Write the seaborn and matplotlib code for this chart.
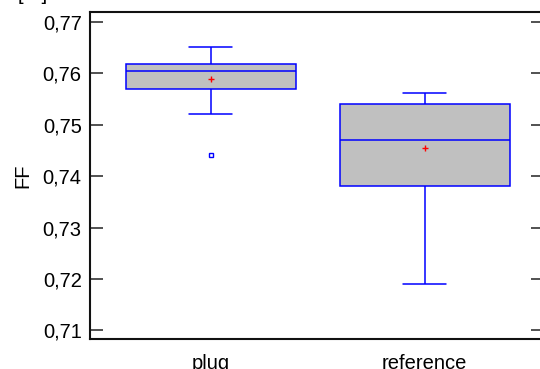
import pandas as pd
import seaborn as sns
import matplotlib.pyplot as plt
from matplotlib.ticker import FuncFormatter

# FF values (estimated samples giving the same box stats)
plug = [0.7441, 0.7521, 0.7560, 0.7569, 0.7595, 0.7600, 0.7605,
        0.7610, 0.7615, 0.7618, 0.7630, 0.7643, 0.7650]
reference = [0.7191, 0.7370, 0.7375, 0.7380, 0.7430, 0.7457, 0.7470,
             0.7500, 0.7525, 0.7540, 0.7548, 0.7555, 0.7561]
groups = ["plug", "reference"]
y_ticks = [0.71, 0.72, 0.73, 0.74, 0.75, 0.76, 0.77]

df = pd.DataFrame({
    "group": ["plug"] * len(plug) + ["reference"] * len(reference),
    "FF": plug + reference,
})

sns.set_style("white")
plt.rcParams["font.family"] = ["Liberation Sans", "DejaVu Sans"]
plt.rcParams["text.color"] = "black"
plt.rcParams["axes.labelcolor"] = "black"
plt.rcParams["xtick.color"] = "black"
plt.rcParams["ytick.color"] = "black"

fig = plt.figure(figsize=(5.4, 3.69), dpi=100)
ax = fig.add_axes([90 / 540, 30 / 369, 453 / 540, 327 / 369])

blue = "#0000ff"
sns.boxplot(
    data=df, x="group", y="FF", order=groups, ax=ax,
    width=0.795, color="#c0c0c0", linecolor=blue, linewidth=1.1,
    showmeans=True,
    meanprops=dict(marker="+", markeredgecolor="red", markersize=4,
                   markeredgewidth=1),
    flierprops=dict(marker="s", markerfacecolor="none",
                    markeredgecolor=blue, markersize=3, markeredgewidth=1),
    capwidths=0.2,
)

ax.set_xlim(-0.565, 1.554)
ax.set_ylim(0.70833, 0.7719)
ax.set_yticks(y_ticks)
ax.yaxis.set_major_formatter(FuncFormatter(lambda v, p: f"{v:.2f}".replace(".", ",")))
ax.tick_params(axis="y", direction="in", length=9, width=1.2, color="#333333",
               left=True, right=True, labelsize=14.5, pad=6)
ax.tick_params(axis="x", bottom=False, labelsize=14.5, pad=7)
for s in ax.spines.values():
    s.set_linewidth(1.5)
    s.set_color("#111111")

ax.set_xlabel("")
ax.set_ylabel("FF", fontsize=14.5)
ax.yaxis.set_label_coords(-0.128, 0.5)
fig.text(33 / 540, 0.988, "[ - ]", fontsize=14.5, ha="center", va="bottom")

fig.savefig("out.png", dpi=100)
